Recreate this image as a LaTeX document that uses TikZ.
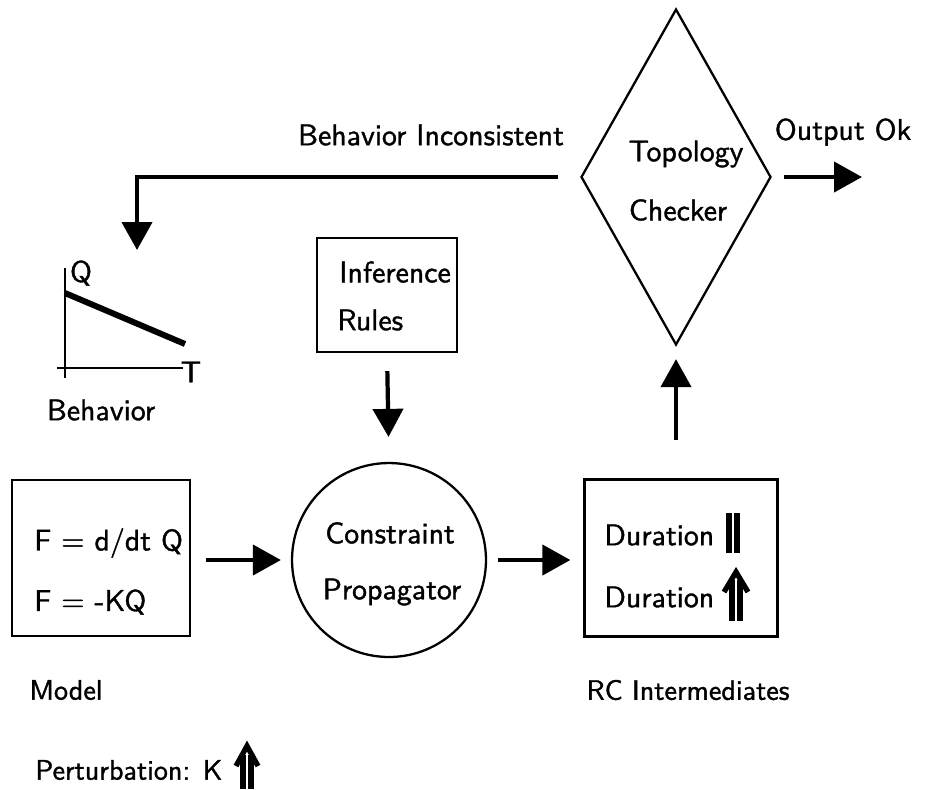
\documentclass[tikz,border=0pt]{standalone}
\usepackage{fontspec}
\newfontfamily\diafont{lmsans10-regular.otf}[FakeBold=1.2]
\usetikzlibrary{arrows.meta,shapes.geometric}
\begin{document}
\begin{tikzpicture}[x=0.02cm,y=-0.02cm,
  lbl/.style={font=\diafont\fontsize{17}{19}\selectfont, inner sep=0pt},
  small/.style={lbl, font=\diafont\fontsize{16}{18}\selectfont},
  box/.style={draw, line width=1.3pt, inner sep=0pt},
  flow/.style={line width=2.4pt, -{Triangle[length=0.56cm,width=0.6cm]}},
  axis/.style={line width=1.2pt},
  glyph/.style={line width=3pt},
]
\useasboundingbox (0,0) rectangle (928,789);

% main blocks
\node[box, minimum width=3.56cm, minimum height=3.12cm] (model) at (101,558) {};
\node[box, circle, minimum size=3.88cm] (prop) at (389,560) {};
\node[box, minimum width=3.86cm, minimum height=3.14cm] (rc) at (681,558) {};
\node[box, diamond, minimum width=3.8cm, minimum height=6.72cm] (diam) at (676,177) {};
\node[box, minimum width=2.8cm, minimum height=2.28cm] (inf) at (387,295) {};

% texts inside the blocks
\node[lbl, anchor=west] (eq1) at (34,543) {F = d/dt Q};
\node[lbl, anchor=west] (eq2) at (34,602) {F = -KQ};
\node[lbl] (cons) at (390,533) {Constraint};
\node[lbl] (propt) at (392,592) {Propagator};
\node[lbl, anchor=west] (dur1) at (604,535) {Duration};
\node[lbl, anchor=west] (dur2) at (604,597) {Duration};
\node[lbl] (topo) at (686,154) {Topology};
\node[lbl] (check) at (678,210) {Checker};
\node[lbl] (infa) at (395,272) {Inference};
\node[lbl, anchor=west] (infb) at (337,320) {Rules};

% labels
\node[small] (modell) at (66,690) {Model};
\node[small] (rcl) at (688,690) {RC Intermediates};
\node[lbl] (okl) at (843,132) {Output Ok};
\node[lbl] (incl) at (431,135) {Behavior Inconsistent};
\node[lbl] (behl) at (101,410) {Behavior};
\node[small, anchor=west] (pert) at (35,770) {Perturbation: K};

% behaviour sketch
\draw[axis] (65,268) -- (65,378);
\draw[axis] (57,368) -- (183,368);
\draw[line width=3.4pt] (65,293) -- (185,344);
\node[lbl] (ql) at (81,273) {Q};
\node[lbl] (tl) at (191,372) {T};

% steady and rising marks
\draw[glyph] (729,513) -- (729,553) (737,513) -- (737,553);
\draw[glyph] (732,580) -- (732,621) (740,580) -- (740,621);
\draw[glyph, miter limit=10] (724,592) -- (736,572) -- (748,592);
\draw[glyph] (243,755) -- (243,789) (251,755) -- (251,789);
\draw[glyph, miter limit=10] (236,766) -- (247,746) -- (258,766);

% connectors
\coordinate (outend) at (862,177);
\coordinate (fbend) at (137,250);
\coordinate (fbstart) at (558,177);
\draw[flow, shorten <=0.3cm, shorten >=0.2cm] (model.east |- prop.west) -- (prop.west);
\draw[flow, shorten <=0.22cm, shorten >=0.26cm] (prop.east) -- (prop.east -| rc.west);
\draw[flow, shorten <=0.76cm, shorten >=0.26cm] (diam.south |- rc.north) -- (diam.south);
\draw[flow, shorten <=0.36cm, shorten >=0.5cm] (inf.south) -- (prop.north);
\draw[flow, shorten <=0.24cm] (diam.east) -- (outend);
\draw[flow] (fbstart) -| (fbend);
\end{tikzpicture}
\end{document}
